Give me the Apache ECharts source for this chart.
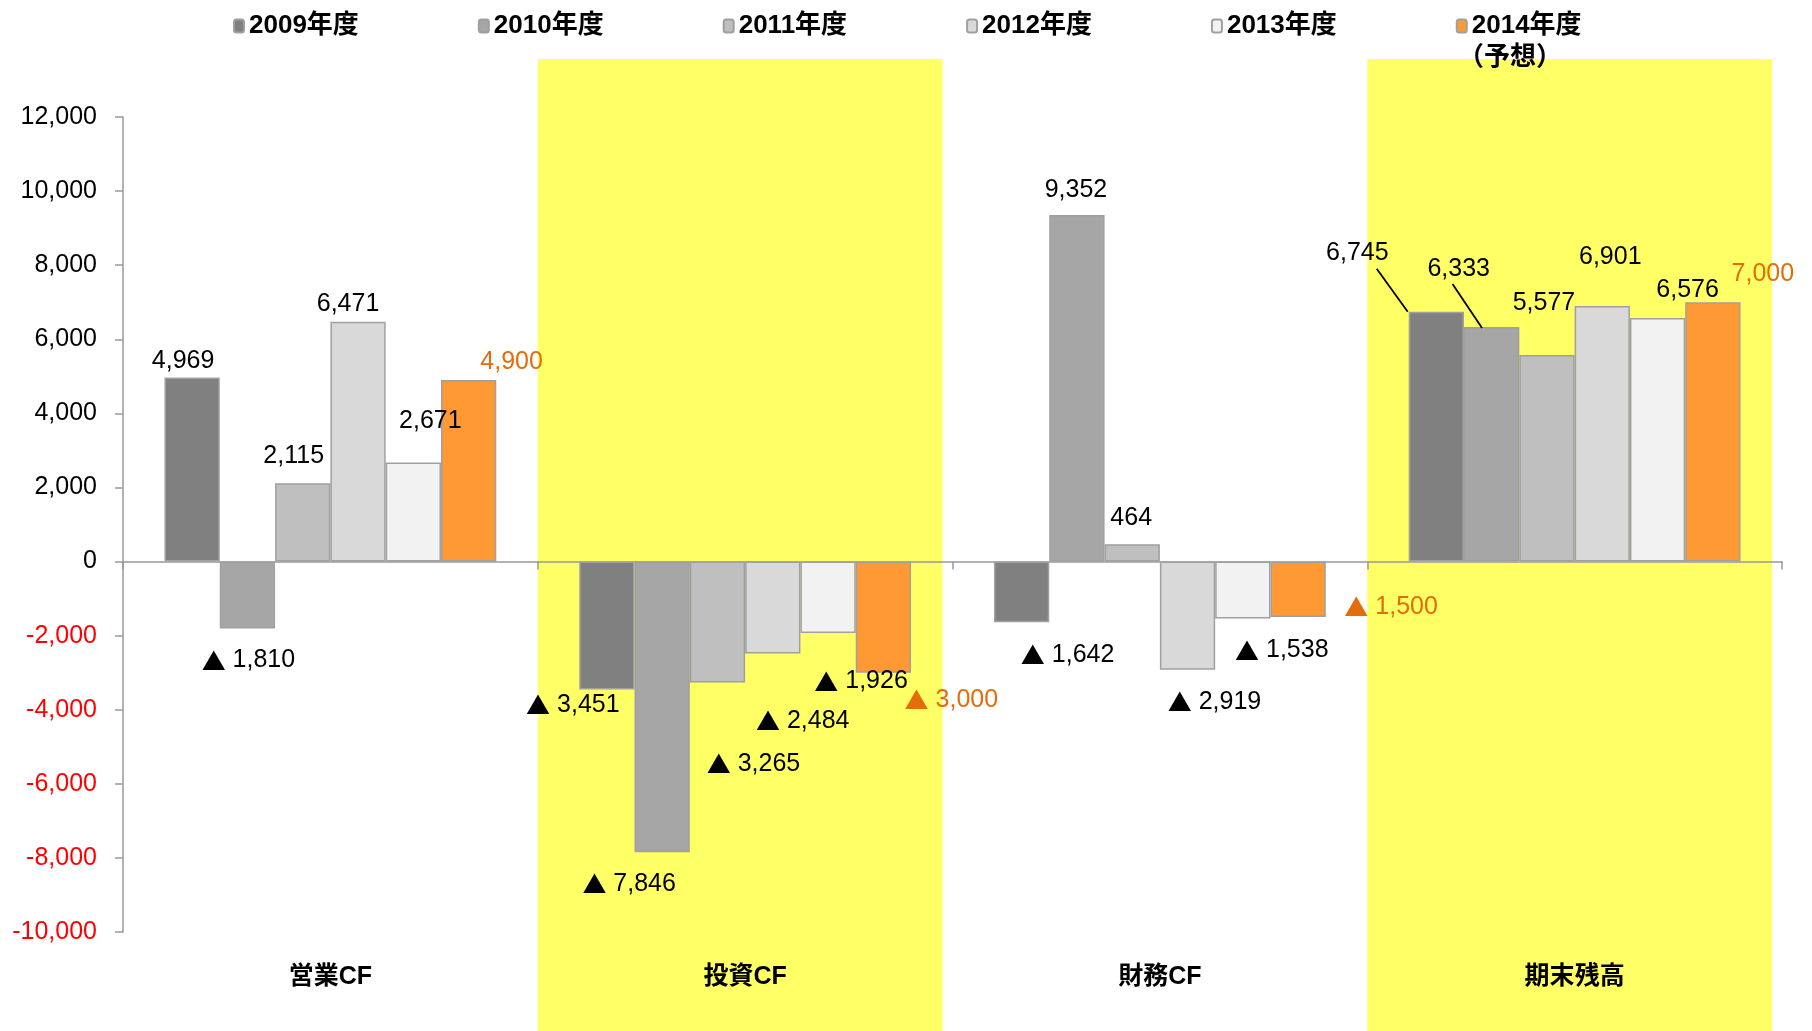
<!DOCTYPE html>
<html><head><meta charset="utf-8">
<script src="https://cdn.jsdelivr.net/npm/echarts@6/dist/echarts.min.js"></script>
<style>html,body{margin:0;padding:0;background:#fff}#c{width:1812px;height:1031px}</style>
</head><body><div id="c"></div><script>
// ---- data ----
const categories = ['営業CF', '投資CF', '財務CF', '期末残高'];
const seriesNames = ['2009年度', '2010年度', '2011年度', '2012年度', '2013年度', '2014年度'];
const v2009 = [4969, -3451, -1642, 6745];
const v2010 = [-1810, -7846, 9352, 6333];
const v2011 = [2115, -3265, 464, 5577];
const v2012 = [6471, -2484, -2919, 6901];
const v2013 = [2671, -1926, -1538, 6576];
const v2014 = [4900, -3000, -1500, 7000];
const yMin = -10000, yMax = 12000, yStep = 2000;
const forecastNote = '（予想）';

// ---- styling / layout ----
const allValues = [v2009, v2010, v2011, v2012, v2013, v2014];
const colors = ['#808080', '#a6a6a6', '#bfbfbf', '#d9d9d9', '#f2f2f2', '#ff9933'];
const labelColors = ['#000', '#000', '#000', '#000', '#000', '#e46c0a'];
// label displacements (px) mimicking the manual label placement of the original
const labelShift = [
  [[-9, 0], [-34, -1], [46, 16.5], [-79, -42.5]],
  [[1, 15.5], [-33, 15], [-1, -8.5], [-33, -41.5]],
  [[-9, -11], [36, 65], [-1, -9.5], [-3, -35.5]],
  [[-10, -1], [30, 51], [27, 15.5], [8, -32.5]],
  [[17, -25], [33, 32], [39, 15.5], [30, -11.5]],
  [[43, -1], [68, 11], [93, -26.5], [50, -11.5]]
];
// leader lines: [series, category, start (dx,dy) and end (dx,dy) relative to bar top-left]
const leaderLines = [[0, 3, -32, -43, -1, 0], [1, 3, -11.5, -43, 18, 1]];
const FONT = "'Liberation Sans', 'Noto Sans CJK JP', sans-serif";
const fmt = v => Math.abs(v).toLocaleString('en-US');

const chart = echarts.init(document.getElementById('c'), null, {renderer: 'canvas'});

const series = allValues.map((vals, si) => ({
  name: seriesNames[si],
  type: 'bar',
  xAxisIndex: 0,
  barGap: '0%',
  barCategoryGap: '20%',
  z: 3,
  itemStyle: {color: colors[si], borderColor: '#a0a0a0', borderWidth: 1.5},
  label: {
    show: true,
    position: 'outside',
    distance: 4,
    color: labelColors[si],
    fontFamily: FONT,
    fontSize: 25,
    formatter: p => (p.value < 0 ? '{t|▲} ' : '') + fmt(p.value),
    rich: {t: {fontFamily: "'Noto Sans CJK JP', sans-serif", fontSize: 24, color: labelColors[si]}}
  },
  labelLayout: p => {
    const s = labelShift[p.seriesIndex][p.dataIndex];
    return {dx: s[0], dy: s[1]};
  },
  data: vals
}));

const option = {
  animation: false,
  backgroundColor: '#fff',
  textStyle: {fontFamily: FONT},
  grid: {left: 123, right: 30, top: 117, bottom: 99, containLabel: false},
  legend: {
    data: seriesNames,
    top: 8,
    left: 228,
    itemWidth: 10,
    itemHeight: 13,
    itemGap: 119,
    textStyle: {fontFamily: FONT, fontSize: 26, fontWeight: 'bold', color: '#000'}
  },
  xAxis: [{
    type: 'category',
    data: categories,
    axisLine: {onZero: true, lineStyle: {color: '#999', width: 1.5}},
    axisTick: {show: true, length: 8, lineStyle: {color: '#999', width: 1.5}},
    axisLabel: {show: false}
  }, {
    type: 'category',
    data: categories,
    position: 'bottom',
    axisLine: {show: false, onZero: false},
    axisTick: {show: false},
    axisLabel: {show: true, margin: 33, fontFamily: FONT, fontSize: 25, fontWeight: 'bold', color: '#000'}
  }],
  yAxis: {
    type: 'value',
    min: yMin, max: yMax, interval: yStep,
    axisLine: {show: true, lineStyle: {color: '#999', width: 1.5}},
    axisTick: {show: true, length: 8, lineStyle: {color: '#999', width: 1.5}},
    splitLine: {show: false},
    axisLabel: {
      margin: 26,
      fontFamily: FONT, fontSize: 25,
      color: v => (Number(v) < 0 ? '#ff0000' : '#000'),
      formatter: v => (v < 0 ? '-' : '') + fmt(v)
    }
  },
  series: series
};
chart.setOption(option);

// yellow highlight bands behind 投資CF and 期末残高, positioned from the category axis
const c0 = chart.convertToPixel({xAxisIndex: 0}, categories[0]);
const c1 = chart.convertToPixel({xAxisIndex: 0}, categories[1]);
const bw = c1 - c0;
const bandFor = name => {
  const c = chart.convertToPixel({xAxisIndex: 0}, name);
  return {type: 'rect', z: -10, silent: true,
    shape: {x: c - bw / 2, y: 59, width: bw * 0.976, height: 1031 - 59},
    style: {fill: '#ffff66'}};
};
// leader lines anchored on the laid-out bars
const ecModel = chart.getModel();
const lines = leaderLines.map(l => {
  const lay = ecModel.getSeriesByIndex(l[0]).getData().getItemLayout(l[1]);
  const left = Math.min(lay.x, lay.x + lay.width);
  const top = Math.min(lay.y, lay.y + lay.height);
  return {type: 'line', z: 20, silent: true,
    shape: {x1: left + l[2], y1: top + l[3], x2: left + l[4], y2: top + l[5]},
    style: {stroke: '#000', lineWidth: 1.8}};
});
chart.setOption({
  graphic: [
    bandFor(categories[1]),
    bandFor(categories[3]),
    ...lines,
    {type: 'text', z: 10, left: 1458, top: 45,
     style: {text: forecastNote, font: "bold 26px " + FONT, fill: '#000'}}
  ]
});
</script></body></html>
